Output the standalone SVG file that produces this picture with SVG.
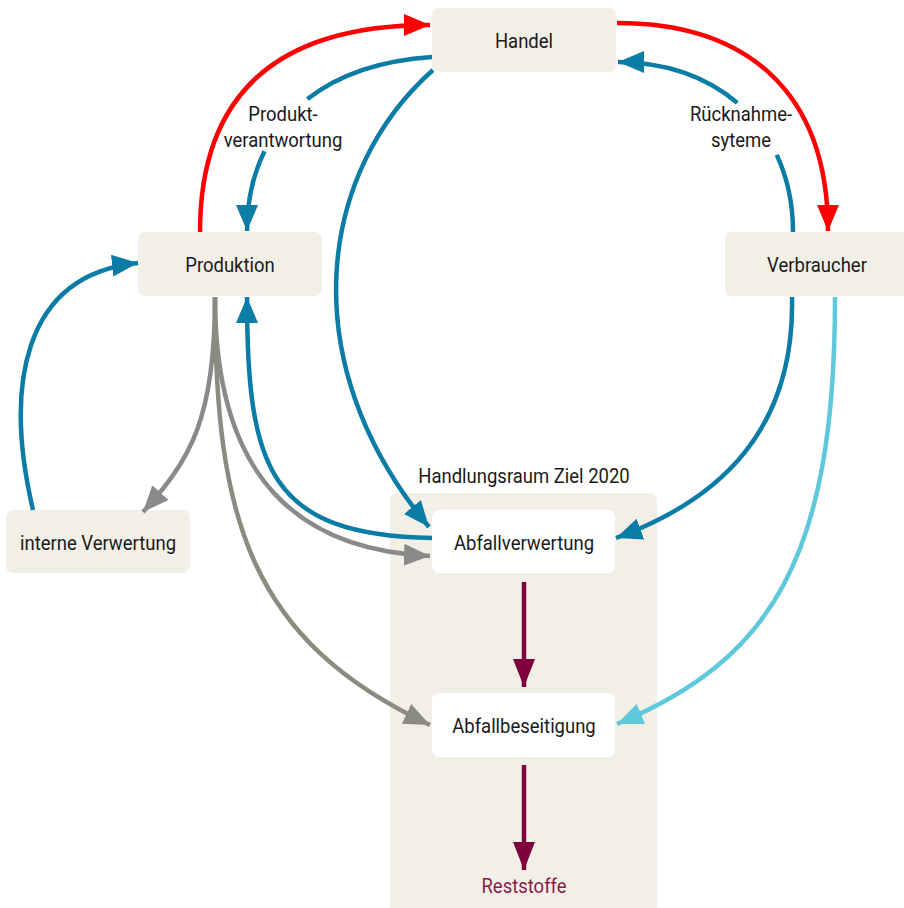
<svg xmlns="http://www.w3.org/2000/svg" width="904" height="908" viewBox="0 0 904 908">
<defs>
<style>
.node{fill:#f2efe6}
.inner{fill:#ffffff}
.t{font-family:"Liberation Sans Narrow","Roboto","Liberation Sans",sans-serif;font-size:21px;fill:#1a1a1a;text-anchor:middle}
.c{fill:none;stroke-width:4.5}
.blue{stroke:#0a7ca6}
.red{stroke:#ff0000}
.grey{stroke:#8a8a8a}
.olive{stroke:#8b8b80}
.light{stroke:#5fc8dc}
.maroon{stroke:#7d003c}
</style>
<marker id="aBlue" markerUnits="userSpaceOnUse" markerWidth="27" markerHeight="22" refX="26" refY="11" orient="auto"><path d="M0,0 L26,11 L0,22 Z" fill="#0a7ca6"/></marker>
<marker id="aRed" markerUnits="userSpaceOnUse" markerWidth="27" markerHeight="22" refX="26" refY="11" orient="auto"><path d="M0,0 L26,11 L0,22 Z" fill="#ff0000"/></marker>
<marker id="aGrey" markerUnits="userSpaceOnUse" markerWidth="27" markerHeight="22" refX="26" refY="11" orient="auto"><path d="M0,0 L26,11 L0,22 Z" fill="#8a8a8a"/></marker>
<marker id="aOlive" markerUnits="userSpaceOnUse" markerWidth="27" markerHeight="22" refX="26" refY="11" orient="auto"><path d="M0,0 L26,11 L0,22 Z" fill="#8b8b80"/></marker>
<marker id="aLight" markerUnits="userSpaceOnUse" markerWidth="27" markerHeight="22" refX="26" refY="11" orient="auto"><path d="M0,0 L26,11 L0,22 Z" fill="#5fc8dc"/></marker>
<marker id="aMaroon" markerUnits="userSpaceOnUse" markerWidth="29" markerHeight="22" refX="28" refY="11" orient="auto"><path d="M0,0 L28,11 L0,22 Z" fill="#7d003c"/></marker>
</defs>
<rect width="904" height="908" fill="#ffffff"/>

<g id="handlungsraum">
<rect class="node" x="390" y="493" width="267" height="420" rx="7"/>
<text class="t" transform="translate(524,483) scale(0.88,1)">Handlungsraum Ziel 2020</text>
</g>

<g id="handel">
<rect class="node" x="432" y="8" width="184" height="64" rx="7"/>
<text class="t" transform="translate(524,48) scale(0.88,1)">Handel</text>
</g>
<g id="produktion">
<rect class="node" x="138" y="232" width="184" height="64" rx="7"/>
<text class="t" transform="translate(230,272) scale(0.88,1)">Produktion</text>
</g>
<g id="verbraucher">
<rect class="node" x="725" y="232" width="190" height="64" rx="7"/>
<text class="t" transform="translate(817,272) scale(0.88,1)">Verbraucher</text>
</g>
<g id="interne-verwertung">
<rect class="node" x="6" y="510" width="184" height="63" rx="7"/>
<text class="t" transform="translate(98,550) scale(0.88,1)">interne Verwertung</text>
</g>
<g id="abfallverwertung">
<rect class="inner" x="432" y="510" width="183" height="63" rx="7"/>
<text class="t" transform="translate(524,550) scale(0.88,1)">Abfallverwertung</text>
</g>
<g id="abfallbeseitigung">
<rect class="inner" x="432" y="693" width="183" height="64" rx="7"/>
<text class="t" transform="translate(524,733) scale(0.88,1)">Abfallbeseitigung</text>
</g>
<g id="reststoffe">
<text class="t" transform="translate(524,893) scale(0.88,1)" style="fill:#8b1a4e">Reststoffe</text>
</g>

<g id="connectors">
<path class="c red" d="M200,232 C200,110 260,25 430,25" marker-end="url(#aRed)"/>
<path class="c red" d="M617,23 C745,23 828,90 828,231" marker-end="url(#aRed)"/>
<path class="c blue" d="M432,57 C310,65 247,135 247,231" pathLength="100" stroke-dasharray="47 24 100" marker-end="url(#aBlue)"/>
<path class="c blue" d="M793,232 C793,130 720,62 618,62" pathLength="100" stroke-dasharray="29 24 100" marker-end="url(#aBlue)"/>
<path class="c blue" d="M433,70 C320,170 290,360 429,527" marker-end="url(#aBlue)"/>
<path class="c blue" d="M432,538 C270,535 247,470 247,297" marker-end="url(#aBlue)"/>
<path class="c blue" d="M792,297 C795,430 720,500 616,538" marker-end="url(#aBlue)"/>
<path class="c light" d="M835,297 C835,560 770,660 617,724" marker-end="url(#aLight)"/>
<path class="c blue" d="M33,510 C5,390 20,275 138,263" marker-end="url(#aBlue)"/>
<path class="c grey" d="M215,297 C215,420 190,460 143,512" marker-end="url(#aGrey)"/>
<path class="c grey" d="M215,297 C215,480 300,550 430,556" marker-end="url(#aGrey)"/>
<path class="c olive" d="M215,297 C215,520 250,640 430,725" marker-end="url(#aOlive)"/>
<path class="c maroon" d="M524,582 L524,687" marker-end="url(#aMaroon)"/>
<path class="c maroon" d="M524,765 L524,870" marker-end="url(#aMaroon)"/>
</g>

<g id="labels">
<text class="t" transform="translate(283,121) scale(0.88,1)">Produkt-</text>
<text class="t" transform="translate(283,147) scale(0.88,1)">verantwortung</text>
<text class="t" transform="translate(741,121) scale(0.88,1)">Rücknahme-</text>
<text class="t" transform="translate(741,147) scale(0.88,1)">syteme</text>
</g>
</svg>
